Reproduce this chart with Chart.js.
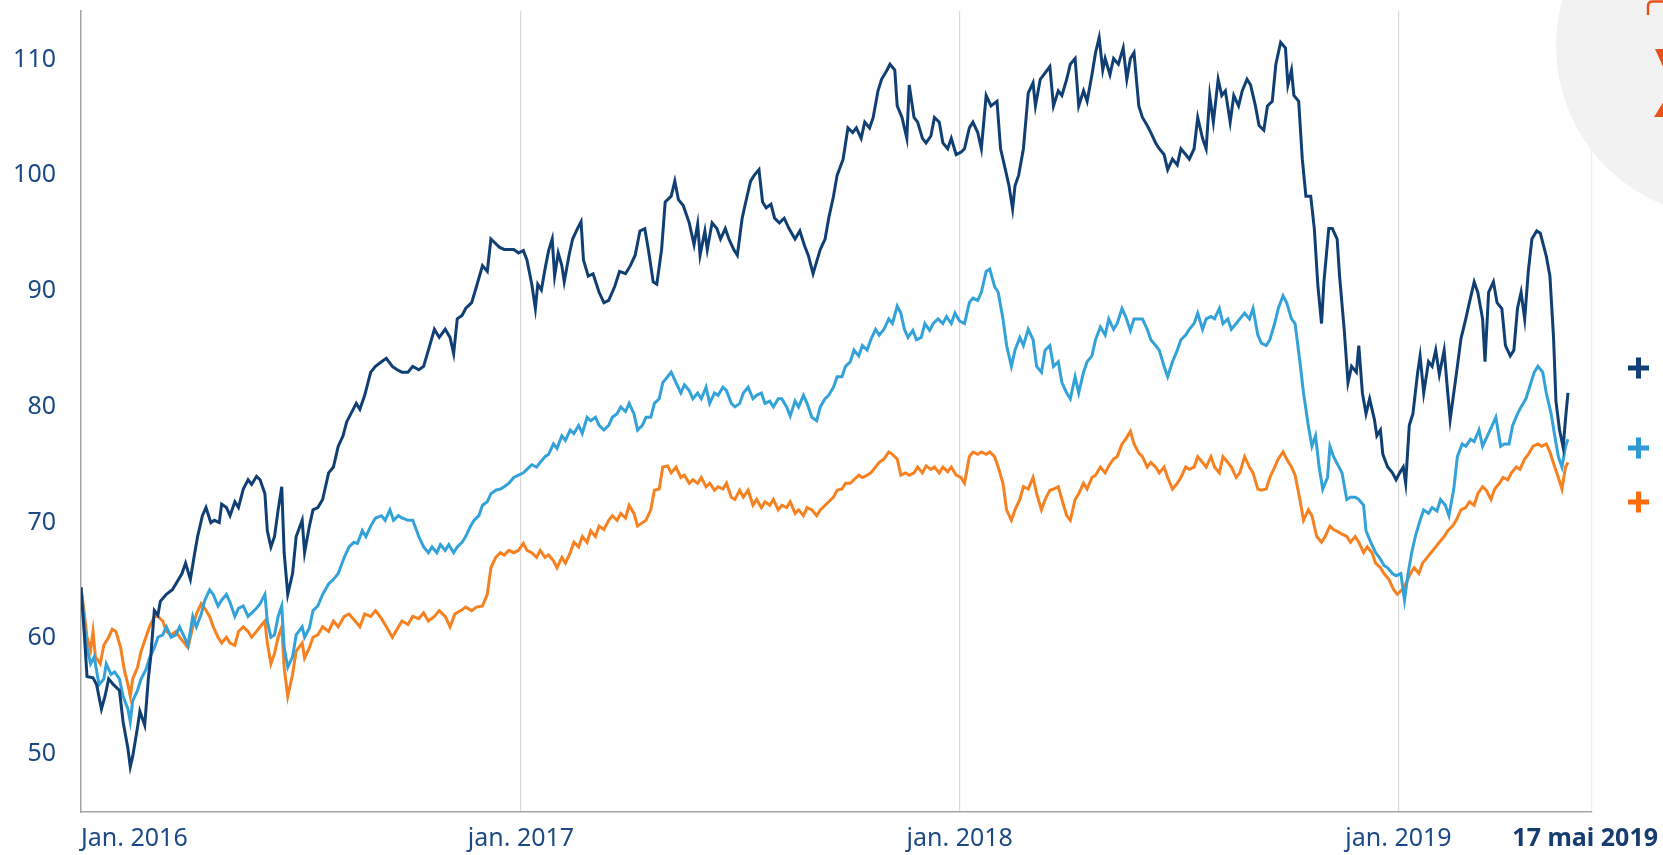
<!DOCTYPE html>
<html>
<head>
<meta charset="utf-8">
<title>Évolution des séries 2016-2019</title>
<script src="https://cdn.jsdelivr.net/npm/chart.js@4.4.1/dist/chart.umd.min.js"></script>
<style>
  html, body { margin: 0; padding: 0; background: #fff; }
  #wrap { width: 1663px; height: 855px; }
</style>
</head>
<body>
<div id="wrap"><canvas id="chart" width="1663" height="855"></canvas></div>
<script>
// x = jours depuis le 1er janvier 2016
const navyDays = [0,3,5,10,13,17,20,23,27,32,35,39,41,43,47,49,53,56,58,61,64,66,71,76,80,84,87,91,94,97,101,104,108,111,115,117,121,124,128,131,135,139,142,146,149,153,155,158,161,164,167,169,172,176,179,184,186,190,193,197,201,206,210,214,218,221,225,229,232,236,241,245,250,254,259,263,267,272,276,281,285,289,294,298,303,307,310,313,317,320,325,329,334,338,341,344,348,352,356,360,364,368,371,375,378,380,383,386,389,392,394,397,400,402,406,409,413,416,418,422,426,431,435,439,444,448,453,457,461,465,469,472,476,479,483,486,491,494,497,501,506,510,513,515,519,521,525,529,532,536,539,543,546,550,553,557,560,564,567,570,574,577,581,585,589,594,598,602,605,609,611,615,619,622,626,629,634,638,642,645,649,652,656,659,663,666,670,673,677,679,683,687,689,693,696,700,703,707,710,714,717,721,724,728,732,735,739,742,746,749,753,757,762,765,769,772,775,777,780,784,788,792,794,798,801,806,809,813,816,820,823,827,830,834,837,841,844,847,850,852,856,859,863,867,870,873,876,880,883,887,890,894,897,901,904,908,912,915,919,922,926,929,933,936,939,942,946,949,952,956,959,963,966,970,973,977,980,984,987,991,994,998,1002,1004,1007,1009,1013,1016,1019,1023,1026,1029,1032,1034,1038,1041,1045,1047,1051,1054,1057,1061,1063,1066,1069,1072,1076,1078,1081,1083,1087,1091,1094,1097,1100,1102,1105,1108,1112,1114,1117,1121,1124,1127,1130,1134,1137,1139,1142,1145,1148,1152,1155,1159,1162,1166,1168,1171,1175,1178,1182,1185,1189,1192,1195,1198,1201,1204,1207,1211,1214,1219,1222,1225,1227,1230,1233,1235,1237];
const navyValues = [64.4,60,56.7,56.6,56,53.9,55,56.5,56,55.5,52.8,50.5,48.9,49.8,52.3,53.7,52.5,56.5,58.4,62.4,62,63.2,63.8,64.2,64.9,65.6,66.5,65.1,67,68.8,70.6,71.3,70,70.2,70,71.6,71.3,70.6,71.8,71.3,72.9,73.7,73.3,74,73.7,72.5,69.3,67.9,68.8,71.1,73.1,67.4,63.8,65.6,68.8,70.2,67.4,69.7,71.1,71.3,72,74.3,74.8,76.6,77.5,78.7,79.5,80.3,79.8,81,83,83.5,83.9,84.2,83.5,83.2,83,83,83.5,83.2,83.5,84.9,86.7,86,86.7,86,84.6,87.6,87.9,88.5,89,90.4,92.2,91.7,94.5,94.2,93.8,93.6,93.6,93.6,93.3,93.5,92.7,90.6,88.5,90.6,90.1,91.9,93.5,94.5,91.3,93.3,92.2,90.8,93.1,94.5,95.4,96,92.7,91.3,91.5,89.9,89,89.2,90.4,91.7,91.5,92.2,93.1,95.2,95.4,93.6,90.8,90.6,93.6,97.7,98.2,99.5,97.9,97.4,95.9,94,95.8,93.1,95.2,93.6,95.9,95.4,94.5,95.4,94.5,93.6,93.1,96.3,97.7,99.5,100,100.5,97.7,97.2,97.5,96.3,95.9,96.3,95.4,94.5,95.2,93.9,93.1,91.5,92.2,93.6,94.5,96.3,98.2,100,101.4,104.1,103.7,104.1,103.2,104.6,104.1,105,107.3,108.3,109,109.6,109.1,106,105,103.2,107.8,105,104.6,103.2,102.8,103.4,105,104.6,102.8,102.3,103.2,101.8,102,102.3,104.1,104.6,103.7,102.3,106.9,106,106.4,102.3,100.5,99.1,97.1,99.1,100,102.3,107.1,108,106,108.3,108.7,109.4,106,107.3,106.9,108.3,109.6,110.1,106,107.3,106.4,108.7,110.6,111.9,109.1,110.1,108.7,110.1,109.6,111,108.3,110.1,110.6,106,105,104.3,103.7,102.8,102.3,101.8,100.5,101.4,100.9,102.3,101.8,101.4,102.3,105,103.2,102.3,106.9,104.6,108.3,106.9,107.3,104.6,106.9,106,107.3,108.3,107.8,106,104.3,103.9,106,106.4,109.6,111.5,111,107.8,109.1,106.9,106.4,101.4,98.2,98.2,95.4,90.4,87.2,90.8,95.4,95.4,94.5,91.3,86.5,82.1,83.5,83,85.3,81.2,79.4,80.7,78.9,77.5,78,75.9,74.8,74.3,73.7,74.3,74.8,73.4,78.4,79.4,83,84.4,81.2,83.9,83.5,84.9,82.8,84.9,81.2,78.9,81.2,83.5,85.9,87.6,89,90.8,89.9,87.6,83.9,89.9,90.8,89,88.5,85.3,84.4,84.9,88.5,89.9,87.6,91.7,94.5,95.2,95,93,91.3,86,80.5,78,76.5,79,81.2];

const blueDays = [0,3,5,8,11,15,19,21,25,28,32,35,39,41,43,47,50,54,57,61,64,68,71,75,79,82,86,89,93,96,100,103,107,110,114,117,121,124,128,131,135,139,142,146,149,153,155,158,161,164,167,169,172,176,179,184,186,190,193,197,201,206,210,214,219,223,227,230,234,237,241,245,250,253,257,260,264,267,272,276,281,285,289,292,296,299,303,306,310,313,317,320,324,327,331,334,338,341,345,349,352,356,360,364,368,371,375,379,382,386,389,393,396,400,403,407,410,414,417,421,424,428,431,435,439,442,446,449,453,456,460,463,467,470,474,477,481,484,488,491,495,499,502,506,509,513,516,520,523,527,530,534,537,541,544,548,551,555,559,562,566,569,573,576,580,583,587,590,594,597,601,604,608,612,615,619,622,626,629,633,636,640,643,647,650,654,657,661,664,668,672,675,679,682,685,688,692,695,699,702,706,709,713,717,720,724,727,731,735,739,742,746,749,753,756,760,763,767,770,774,777,781,784,788,792,795,799,802,806,809,813,816,820,823,827,830,834,837,841,844,848,852,855,859,862,866,869,873,876,880,883,887,890,894,897,901,904,908,912,915,919,922,926,929,933,936,940,943,947,950,954,957,961,964,968,972,975,979,982,986,989,993,996,1000,1003,1007,1010,1014,1017,1021,1024,1027,1030,1033,1037,1039,1042,1046,1049,1053,1056,1060,1063,1067,1069,1073,1077,1080,1084,1087,1091,1094,1098,1101,1104,1107,1110,1114,1117,1121,1124,1128,1131,1135,1138,1142,1145,1149,1152,1156,1159,1163,1166,1170,1174,1177,1181,1184,1188,1191,1195,1198,1202,1205,1209,1212,1216,1219,1223,1226,1229,1232,1235,1237];
const blueValues = [64.4,61,59.2,57.8,58.4,56,56.5,57.8,56.9,57.1,56.5,55,53.9,52.8,54.6,55.5,56.5,57.3,58.3,59.2,60.1,60.3,61,60.1,60.3,61,60.1,59.4,61.9,61,62.1,63.3,64.2,63.8,62.8,63.3,63.8,63.1,61.9,62.6,62.8,61.9,62.2,62.6,63,63.8,61.5,60.1,60.3,61.9,62.8,59.2,57.5,58.4,60.3,61,60.1,60.9,62.4,62.8,63.8,64.7,65.1,65.6,67,67.9,68.3,68.2,69.3,68.8,69.7,70.4,70.6,70.2,71.1,70.2,70.6,70.4,70.2,70.2,68.8,67.9,67.4,67.9,67.4,68.1,67.6,68.1,67.4,67.9,68.3,68.8,69.7,70.2,70.6,71.5,71.8,72.5,72.8,72.9,73.1,73.4,73.9,74.1,74.3,74.6,75,74.8,75.2,75.7,75.9,76.8,76.4,77.5,77.1,78,77.7,78.4,77.7,79.1,78.8,79.1,78.4,78,78.4,79.1,79.4,80,79.6,80.3,79.4,78,78.4,79.1,79.1,80.3,80.7,82.1,82.6,83,82.1,81.2,81.9,81.4,80.7,81.2,80.7,81.7,80.3,81.2,81,81.7,81.4,80.3,80,80.3,81.2,81.7,80.7,81,81.2,80.3,80.5,80,80.7,80.7,80,79.2,80.5,80,81,80.3,79.1,78.8,80,80.7,81,81.7,82.6,82.6,83.5,83.9,84.9,84.4,85.3,84.9,85.8,86.7,86.2,86.7,87.6,87.2,88.7,88.1,86.7,86,86.6,85.8,86,87.2,86.6,87.2,87.6,87.2,87.8,87.2,88.1,87.4,87.2,89,89.4,89.2,89.9,91.7,91.9,90.4,89.9,87.6,85.3,83.5,84.9,86,85.3,86.7,85.8,83.5,83,84.9,85.3,83.5,83.9,82.1,81.2,80.7,82.6,81.2,83,83.9,84.4,85.8,86.9,86.2,87.6,86.7,87.2,88.5,87.8,86.6,87.6,87.6,87.6,86.7,85.8,85.3,84.9,83.5,82.6,83.9,84.9,85.8,86.2,86.7,87.2,88.1,86.7,87.6,87.8,87.6,88.5,87.2,87.6,86.7,87.2,87.6,88.1,87.6,88.5,86.2,85.5,85.3,85.8,87.2,88.5,89.6,89,87.6,87.2,83.9,81.2,78.4,76.6,77.5,74.8,72.9,73.9,76.6,75.7,74.9,74.3,72,72.2,72.2,72,71.5,69.3,68.3,67.4,67,66.3,66.1,65.6,65.4,65.6,63.3,65.6,67.4,68.8,70.2,71.1,70.8,71.3,71,72,71.5,70.6,72.9,75.7,76.8,76.6,77.2,77,78,76.6,77.5,78.4,79.1,76.6,76.8,76.8,78.4,79.4,80,80.7,81.7,83,83.5,83,81.2,79.4,77.5,75.7,74.8,76.6,77.2];

const orangeDays = [0,3,5,8,10,12,16,19,23,26,29,33,36,39,41,43,47,50,54,57,61,64,68,71,75,79,82,86,89,93,96,100,103,107,110,114,117,121,124,128,131,135,139,142,146,149,153,155,158,161,164,167,169,172,176,179,184,186,190,193,197,201,206,210,214,219,223,228,232,236,241,245,250,254,259,263,267,272,276,281,285,289,294,298,303,307,311,316,320,325,329,334,338,341,345,349,352,356,360,364,368,371,375,379,382,386,389,393,396,400,403,407,410,414,417,421,424,428,431,435,439,442,446,449,453,456,460,463,467,470,474,477,481,484,488,491,495,499,502,506,509,513,516,520,523,527,530,534,537,541,544,548,551,555,559,562,566,569,573,576,580,583,587,590,594,597,601,604,608,612,615,619,622,626,629,633,636,640,643,647,650,654,657,661,664,668,672,675,679,682,686,689,693,696,700,703,707,710,714,717,721,724,728,732,735,739,742,746,749,753,756,760,763,767,770,774,777,781,784,788,792,795,799,802,806,809,813,816,820,823,827,830,834,837,841,844,848,852,855,859,862,866,869,873,876,880,883,887,890,894,897,901,904,908,912,915,919,922,926,929,933,936,940,943,947,950,954,957,961,964,968,972,975,979,982,986,989,993,996,1000,1003,1007,1010,1014,1017,1021,1024,1028,1032,1035,1039,1042,1046,1049,1053,1056,1060,1063,1067,1070,1074,1077,1081,1084,1088,1092,1095,1099,1102,1106,1109,1113,1116,1120,1123,1127,1130,1134,1137,1141,1144,1148,1152,1155,1159,1162,1166,1169,1173,1176,1180,1183,1187,1190,1194,1197,1201,1204,1208,1212,1215,1219,1222,1226,1229,1232,1235,1237];
const orangeValues = [64.4,61.9,60.1,59,60.6,58.4,57.8,59.4,60.1,60.8,60.6,59.2,57.3,56,55,56.5,57.5,58.9,60.1,61,61.9,61.9,61.5,60.6,60.3,60.6,60.1,59.6,59.2,61,62.1,63,62.6,61.9,61,60.1,59.6,60.1,59.6,59.4,60.6,61,60.6,60.1,60.6,61,61.5,59.6,57.8,58.7,60.1,61,57.5,55,56.9,58.9,59.6,58.3,59.2,60.1,60.3,61,60.6,61.5,61,61.9,62.1,61.5,61,62.1,61.9,62.4,61.7,61,60.1,60.8,61.5,61.2,61.9,61.7,62.2,61.5,61.9,62.4,61.9,61,62.1,62.4,62.7,62.4,62.7,62.8,63.8,66.1,67,67.4,67.2,67.6,67.4,67.6,68.2,67.6,67.4,67,67.6,67,67.2,66.7,66.1,67,66.5,67.4,68.3,67.9,68.8,68.3,69.3,68.8,69.7,69.4,70.2,70.6,70.2,70.8,70.4,71.5,70.8,69.7,70,70.2,71.1,72.8,72.9,74.8,74.9,74.3,74.8,73.9,74.1,73.4,73.7,73.4,73.9,73.1,73.4,72.8,73.1,72.9,73.4,72.2,72,72.8,72.2,72.8,71.5,72,71.3,71.8,71.5,72,71.1,71.5,71.3,71.8,70.8,71.1,70.6,71.3,71.1,70.6,71.1,71.5,71.8,72.2,72.8,72.9,73.4,73.4,73.7,74.1,73.9,74.1,74.3,74.8,75.2,75.5,76.1,75.9,75.5,74.1,74.3,74.1,74.3,74.8,74.3,74.9,74.6,74.8,74.3,74.8,74.4,74.8,74.1,73.9,73.4,75.7,76.1,75.9,76.1,75.9,76.1,75.7,74.8,73.4,71.1,70.2,71.1,72,73.1,72.9,73.9,72.5,71.1,72,72.8,72.9,73.1,72,70.6,70.2,72,72.5,73.4,72.9,73.9,74.1,74.8,74.3,74.9,75.5,75.7,76.8,77.2,77.9,76.8,76,75.7,74.8,75.2,74.8,74.3,74.8,73.9,72.9,73.4,73.9,74.8,74.6,74.8,75.7,75.2,74.8,75.7,74.8,74.3,75.7,75.2,74.8,73.9,74.3,75.7,74.8,74.3,72.9,72.8,72.9,73.9,74.8,75.5,76.1,75.5,74.8,74.1,72,70.2,71.1,70.6,68.8,68.3,68.8,69.7,69.4,69.2,69,68.8,68.3,68.8,68.3,67.4,67.9,67.4,66.5,66.1,65.6,65.1,64.2,63.8,64.2,64.7,65.6,66.1,65.6,66.5,67,67.4,67.9,68.3,68.8,69.3,69.7,70.2,71.1,71.3,71.8,71.5,72.5,73.1,72.8,72,72.9,73.4,73.9,73.7,74.3,74.8,74.6,75.5,75.9,76.6,76.8,76.6,76.8,76.1,74.8,73.9,72.9,74.8,75.2];

const yTicks = [50, 60, 70, 80, 90, 100, 110];
const xTickDays = [0, 366, 731, 1096];
const xTickLabels = ["Jan. 2016", "jan. 2017", "jan. 2018", "jan. 2019"];
const endLabel = "17 mai 2019";
const xMax = 1257;

const toPoints = (days, vals) => days.map((d, i) => ({ x: d, y: vals[i] }));
const FONT = "'Noto Sans', sans-serif";

// cercle gris, fragments d'icône et repères "+" à droite
const decor = {
  id: "decor",
  afterDraw(chart) {
    const ctx = chart.ctx;
    const xs = chart.scales.x;
    ctx.save();
    ctx.fillStyle = "#f2f2f2";
    ctx.beginPath();
    ctx.arc(1727, 46, 171, 0, Math.PI * 2);
    ctx.fill();

    ctx.strokeStyle = "#e8521c";
    ctx.fillStyle = "#e8521c";
    ctx.lineWidth = 2.5;
    ctx.beginPath();
    ctx.moveTo(1663, 1.5);
    ctx.lineTo(1653, 1.5);
    ctx.quadraticCurveTo(1648, 1.5, 1648, 6);
    ctx.lineTo(1648, 15);
    ctx.stroke();
    ctx.beginPath();
    ctx.moveTo(1655, 49); ctx.lineTo(1664, 49); ctx.lineTo(1664, 69); ctx.closePath();
    ctx.fill();
    ctx.beginPath();
    ctx.moveTo(1654, 117); ctx.lineTo(1664, 117); ctx.lineTo(1664, 101); ctx.closePath();
    ctx.fill();

    const plus = [["#123f7a", 368], ["#2f9ad6", 448], ["#fd6b0c", 502]];
    plus.forEach(([c, cy]) => {
      ctx.fillStyle = c;
      ctx.fillRect(1628, cy - 2.5, 21, 5);
      ctx.fillRect(1636, cy - 10.5, 5, 21);
    });

    ctx.font = "bold 25px " + FONT;
    ctx.fillStyle = "#163c70";
    ctx.textAlign = "right";
    ctx.textBaseline = "middle";
    ctx.fillText(endLabel, 1658, xs.top + 12 + 15);
    ctx.restore();
  }
};

new Chart(document.getElementById("chart"), {
  type: "line",
  data: {
    datasets: [
      { label: "Série 1", data: toPoints(navyDays, navyValues), borderColor: "#103f74", borderWidth: 3 },
      { label: "Série 2", data: toPoints(blueDays, blueValues), borderColor: "#33a2d9", borderWidth: 3 },
      { label: "Série 3", data: toPoints(orangeDays, orangeValues), borderColor: "#f58121", borderWidth: 3 }
    ]
  },
  options: {
    responsive: false,
    animation: false,
    elements: { point: { radius: 0 }, line: { tension: 0 } },
    layout: { padding: { top: 11, right: 71, left: 0, bottom: 0 } },
    plugins: { legend: { display: false }, tooltip: { enabled: false } },
    scales: {
      x: {
        type: "linear",
        min: 0,
        max: xMax,
        afterBuildTicks: s => { s.ticks = xTickDays.concat([xMax]).map(v => ({ value: v })); },
        afterFit: s => { s.height = 43; s.paddingLeft = 0; s.paddingRight = 0; },
        border: { display: true, color: "#a6a6a6", width: 1.5 },
        grid: {
          drawTicks: false,
          color: c => c.index === 0 ? "rgba(0,0,0,0)" : (c.index === xTickDays.length ? "#eeeeee" : "#d9d9d9"),
          lineWidth: 1.2
        },
        ticks: {
          align: "inner",
          padding: 12,
          maxRotation: 0,
          autoSkip: false,
          color: "#1d4a85",
          font: { family: FONT, size: 25 },
          callback: (v, i) => xTickLabels[i] || ""
        }
      },
      y: {
        min: 45,
        max: 114.2,
        afterBuildTicks: s => { s.ticks = yTicks.map(v => ({ value: v })); },
        afterFit: s => { s.width = 81; s.paddingTop = 0; s.paddingBottom = 0; },
        border: { display: true, color: "#a6a6a6", width: 1.5 },
        grid: { display: false, drawTicks: false },
        ticks: {
          padding: 25,
          color: "#1d4a85",
          font: { family: FONT, size: 25 },
          callback: v => String(v)
        }
      }
    }
  },
  plugins: [decor]
});
</script>
</body>
</html>
